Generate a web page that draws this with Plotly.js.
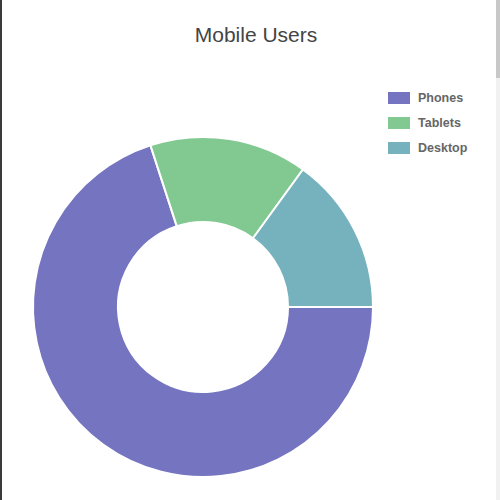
<!DOCTYPE html>
<html>
<head>
<meta charset="utf-8">
<script src="https://cdn.plot.ly/plotly-3.0.1.min.js"></script>
<style>
html,body{margin:0;padding:0;background:#fff;overflow:hidden;}
#wrap{position:relative;width:500px;height:500px;}
#chart{width:500px;height:500px;}
#lb{position:absolute;left:0;top:0;width:2px;height:500px;background:#3a3a3a;}
#sb{position:absolute;right:0;top:0;width:4px;height:500px;background:#f1f1f1;}
#sbt{position:absolute;right:0;top:0;width:4px;height:78px;background:#c8c8c8;}
</style>
</head>
<body>
<div id="wrap">
<div id="chart"></div>
<div id="lb"></div><div id="sb"></div><div id="sbt"></div>
</div>
<script>
var categories = ["Phones", "Tablets", "Desktop"];
var values = [70, 15, 15];
var colors = ["#7474c0", "#82c991", "#75b2be"];

var trace = {
  type: "pie",
  labels: categories,
  values: values,
  hole: 0.5,
  sort: false,
  direction: "clockwise",
  rotation: 90,
  textinfo: "none",
  hoverinfo: "label+value+percent",
  marker: {colors: colors, line: {color: "#ffffff", width: 2}},
  showlegend: false,
  domain: {x: [0, 1], y: [0, 1]}
};

var shapes = [];
var annotations = [];
for (var i = 0; i < categories.length; i++) {
  var yTop = 92 + i * 25;
  shapes.push({
    type: "rect", xref: "paper", yref: "paper",
    x0: (388 - 33) / 340, x1: (410 - 33) / 340,
    y0: 1 - (yTop + 12 - 137) / 340, y1: 1 - (yTop - 137) / 340,
    fillcolor: colors[i], line: {width: 0}
  });
  annotations.push({
    xref: "paper", yref: "paper",
    x: (416 - 33) / 340, y: 1 - (yTop + 6 - 137) / 340,
    xanchor: "left", yanchor: "middle", showarrow: false,
    text: "<b>" + categories[i] + "</b>",
    font: {family: "Liberation Sans, Arial, sans-serif", size: 12.5, color: "#666666"}
  });
}

var layout = {
  width: 500, height: 500,
  margin: {l: 33, r: 127, t: 137, b: 23},
  paper_bgcolor: "#ffffff",
  title: {
    text: "Mobile Users",
    x: 256 / 500, xref: "container", xanchor: "center",
    y: 1 - 35 / 500, yref: "container", yanchor: "middle",
    font: {family: "Liberation Sans, Arial, sans-serif", size: 21, color: "#444444"}
  },
  shapes: shapes,
  annotations: annotations
};

Plotly.newPlot("chart", [trace], layout, {displayModeBar: false, staticPlot: false});
</script>
</body>
</html>
